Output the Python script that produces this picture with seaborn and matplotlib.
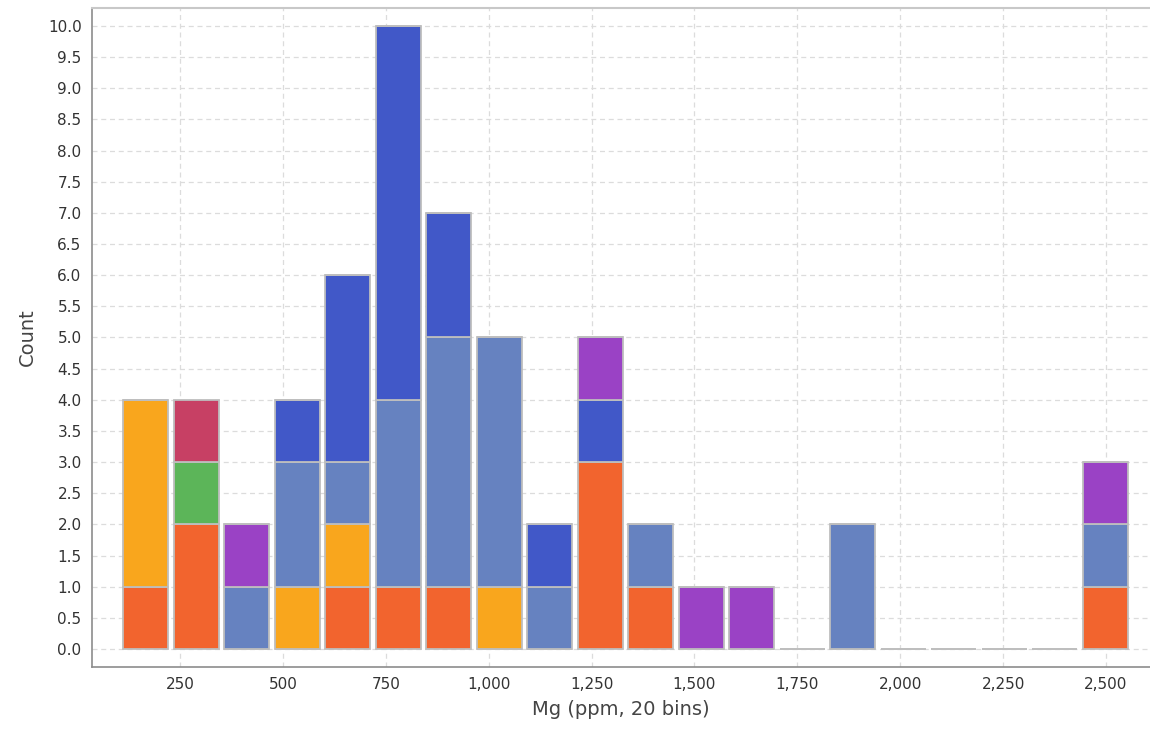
import numpy as np
import pandas as pd
import matplotlib
matplotlib.use("Agg")
import matplotlib.pyplot as plt
from matplotlib.ticker import FuncFormatter, MultipleLocator
import seaborn as sns

# Mg range covered by the histogram and number of bins
mg_min = 105.0
mg_max = 2560.0
n_bins = 20

# Counts per bin for each group (bin 1 .. bin 20)
group_names = ["Group A", "Group B", "Group C", "Group D", "Group E", "Group F", "Group G"]
counts_a = [1, 2, 0, 0, 1, 1, 1, 0, 0, 3, 1, 0, 0, 0, 0, 0, 0, 0, 0, 1]
counts_b = [3, 0, 0, 1, 1, 0, 0, 1, 0, 0, 0, 0, 0, 0, 0, 0, 0, 0, 0, 0]
counts_c = [0, 0, 1, 2, 1, 3, 4, 4, 1, 0, 1, 0, 0, 0, 2, 0, 0, 0, 0, 1]
counts_d = [0, 1, 0, 0, 0, 0, 0, 0, 0, 0, 0, 0, 0, 0, 0, 0, 0, 0, 0, 0]
counts_e = [0, 0, 0, 1, 3, 6, 2, 0, 1, 1, 0, 0, 0, 0, 0, 0, 0, 0, 0, 0]
counts_f = [0, 0, 1, 0, 0, 0, 0, 0, 0, 1, 0, 1, 1, 0, 0, 0, 0, 0, 0, 1]
counts_g = [0, 1, 0, 0, 0, 0, 0, 0, 0, 0, 0, 0, 0, 0, 0, 0, 0, 0, 0, 0]
group_colors = ["#F2642E", "#F9A61D", "#6682C0", "#5CB559", "#4158C8", "#9A42C5", "#C74064"]

edges = np.linspace(mg_min, mg_max, n_bins + 1)
centers = (edges[:-1] + edges[1:]) / 2

rows = []
for name, cnts in zip(group_names, [counts_a, counts_b, counts_c, counts_d,
                                     counts_e, counts_f, counts_g]):
    for c, n in zip(centers, cnts):
        if n > 0:
            rows.append({"Mg": c, "count": n, "group": name})
df = pd.DataFrame(rows)

sns.set_theme(style="white")
plt.rcParams["font.family"] = ["DejaVu Sans"]

fig = plt.figure(figsize=(11.5, 7.32), dpi=100)
ax = fig.add_axes([0.08, 0.0892, 0.92, 0.8995])

# seaborn stacks the first hue level on top, so list groups top-down
order = group_names[::-1]
palette = dict(zip(group_names, group_colors))
sns.histplot(data=df, x="Mg", weights="count", hue="group", hue_order=order,
             bins=n_bins, binrange=(mg_min, mg_max), multiple="stack",
             palette=palette, shrink=0.89, alpha=1.0, edgecolor="#BEBEBE",
             linewidth=1.3, legend=False, ax=ax)

ax.set_xlim(36, 2607)
ax.set_ylim(-0.284, 10.284)
ax.xaxis.set_major_locator(MultipleLocator(250))
ax.yaxis.set_major_locator(MultipleLocator(0.5))
ax.xaxis.set_major_formatter(FuncFormatter(lambda v, p: f"{v:,.0f}"))
ax.yaxis.set_major_formatter(FuncFormatter(lambda v, p: f"{v:.1f}"))

ax.grid(True, color="#DCDCDC", linestyle=(0, (4, 3)), linewidth=0.9)
ax.set_axisbelow(True)

ax.tick_params(axis="both", direction="out", length=4, width=1,
               color="#888888", labelsize=11, labelcolor="#333333")
ax.set_xlabel("Mg (ppm, 20 bins)", fontsize=14, color="#444444", labelpad=6)
ax.set_ylabel("Count", fontsize=14, color="#444444", labelpad=8)

for side in ["left", "bottom"]:
    ax.spines[side].set_color("#8C8C8C")
    ax.spines[side].set_linewidth(1.2)
ax.spines["top"].set_color("#C8C8C8")
ax.spines["top"].set_linewidth(1.5)
ax.spines["right"].set_visible(False)

fig.savefig("out.png", dpi=100, facecolor="white")
